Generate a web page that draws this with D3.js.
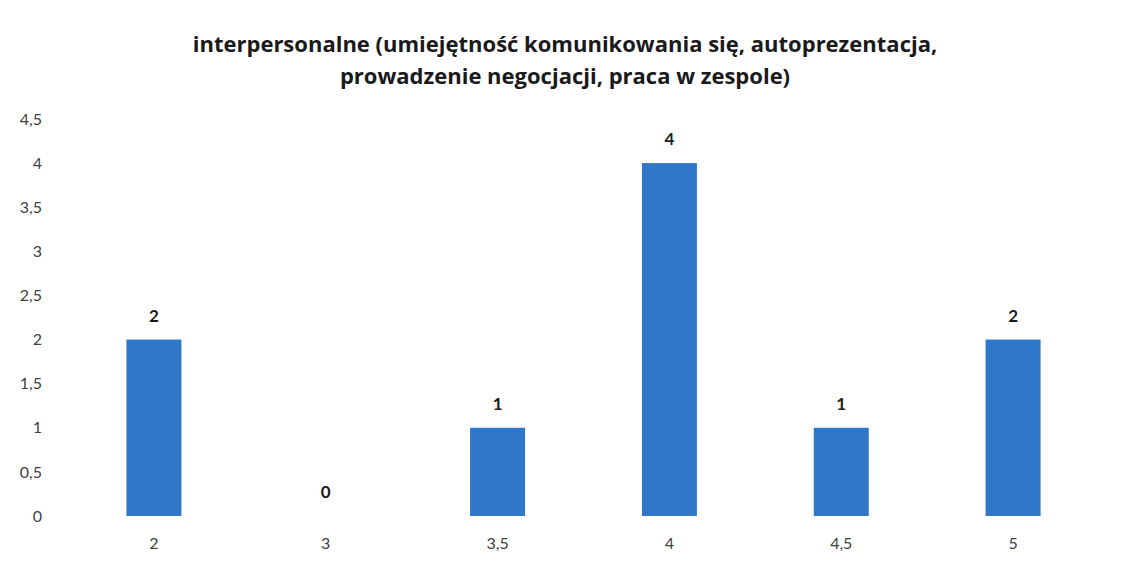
<!DOCTYPE html>
<html>
<head>
<meta charset="utf-8">
<script src="https://cdn.jsdelivr.net/npm/d3@7"></script>
<style>
  body { margin: 0; background: #fff; }
  svg { font-family: Lato, "Open Sans", sans-serif; }
</style>
</head>
<body>
<script>
// chart data
var categories = ["2", "3", "3,5", "4", "4,5", "5"];
var values = [2, 0, 1, 4, 1, 2];
var yTicks = [0, 0.5, 1, 1.5, 2, 2.5, 3, 3.5, 4, 4.5];
var titleLines = [
  "interpersonalne (umiejętność komunikowania się, autoprezentacja,",
  "prowadzenie negocjacji, praca w zespole)"
];

const width = 1130;
const height = 576;

const svg = d3.select("body").append("svg")
  .attr("width", width)
  .attr("height", height);

var x = d3.scaleBand()
  .domain(categories)
  .range([68, 1099])
  .paddingInner(0.68)
  .paddingOuter(0.34);

var y = d3.scaleLinear()
  .domain([0, 4.5])
  .range([516, 119]);

var fmt = function(d) { return String(d).replace(".", ","); };

// title
svg.append("g")
  .selectAll("text")
  .data(titleLines)
  .enter().append("text")
    .attr("x", 565)
    .attr("y", function(d, i) { return 52 + i * 32; })
    .attr("text-anchor", "middle")
    .attr("font-family", "'Open Sans', sans-serif")
    .attr("font-size", 22)
    .attr("font-weight", "bold")
    .attr("fill", "#1a1a1a")
    .text(function(d) { return d; });

// y axis labels (no line)
var yAxis = svg.append("g")
  .attr("transform", "translate(48,0)")
  .call(d3.axisLeft(y).tickValues(yTicks).tickFormat(fmt).tickSize(0).tickPadding(6));
yAxis.select(".domain").remove();
yAxis.selectAll("text")
  .attr("font-family", "Lato, 'Open Sans', sans-serif")
  .attr("font-size", 16)
  .attr("fill", "#404040");

// x axis labels
var xAxis = svg.append("g")
  .attr("transform", "translate(0,530)")
  .call(d3.axisBottom(x).tickSize(0).tickPadding(8));
xAxis.select(".domain").remove();
xAxis.selectAll("text")
  .attr("font-family", "Lato, 'Open Sans', sans-serif")
  .attr("font-size", 16)
  .attr("fill", "#404040");

// bars
svg.append("g")
  .selectAll("rect")
  .data(values)
  .enter().append("rect")
    .attr("x", function(d, i) { return x(categories[i]); })
    .attr("y", function(d) { return y(d); })
    .attr("width", x.bandwidth())
    .attr("height", function(d) { return y(0) - y(d); })
    .attr("fill", "#2f77c9");

// value labels
svg.append("g")
  .selectAll("text")
  .data(values)
  .enter().append("text")
    .attr("x", function(d, i) { return x(categories[i]) + x.bandwidth() / 2; })
    .attr("y", function(d) { return y(d) - 18; })
    .attr("text-anchor", "middle")
    .attr("font-size", 17)
    .attr("font-weight", "bold")
    .attr("fill", "#1a1a1a")
    .text(function(d) { return d; });
</script>
</body>
</html>
